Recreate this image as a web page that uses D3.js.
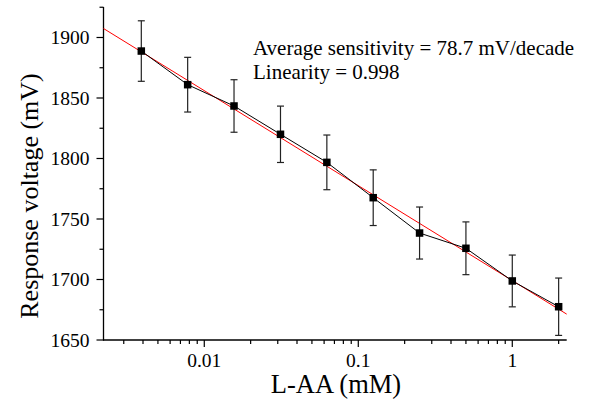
<!DOCTYPE html>
<html><head><meta charset="utf-8">
<script src="https://cdn.jsdelivr.net/npm/d3@7"></script>
<style>body{margin:0;background:#fff}svg{display:block}text{font-family:"Liberation Serif","Times New Roman",serif;fill:#000}</style>
</head><body>
<svg id="c" width="592" height="401"></svg>
<script>
const concentrations = [0.0039, 0.0078, 0.0156, 0.03125, 0.0625, 0.125, 0.25, 0.5, 1, 2];
const voltages = [1888.8, 1861, 1843.4, 1820, 1796.8, 1767.6, 1738.4, 1725.8, 1698.8, 1677.5];
const errors = [25, 22.6, 21.7, 23.3, 22.6, 23, 21.5, 21.8, 21.4, 23.7];
const yTicks = [1650, 1700, 1750, 1800, 1850, 1900];
const xTicks = [0.01, 0.1, 1];
const xTickLabels = ["0.01", "0.1", "1"];
const annotations = ["Average sensitivity = 78.7 mV/decade", "Linearity = 0.998"];

const svg = d3.select("#c");
const pL = 103.5, pR = 566.7, pT = 7, pB = 340;
const x = d3.scaleLog().domain([0.002216, 2.256]).range([pL, pR]);
const y = d3.scaleLinear().domain([1650, 1925.2]).range([pB, pT]);

// minor ticks
const minorX = [];
[0.001, 0.01, 0.1, 1].forEach(d => { for (let k = 2; k <= 9; k++) { const v = d * k; if (v >= 0.002216 && v <= 2.256) minorX.push(v); } });
const minorY = [1675, 1725, 1775, 1825, 1875, 1925];

const ax = svg.append("g").attr("stroke", "#000");
ax.append("line").attr("x1", pL).attr("x2", pL).attr("y1", pT).attr("y2", pB + 0.5).attr("stroke-width", 1.3);
ax.append("line").attr("x1", pL - 0.5).attr("x2", pR).attr("y1", pB).attr("y2", pB).attr("stroke-width", 1.3);
ax.selectAll(".ymaj").data(yTicks).join("line").attr("x1", pL - 7).attr("x2", pL).attr("y1", d => y(d)).attr("y2", d => y(d)).attr("stroke-width", 1.2);
ax.selectAll(".ymin").data(minorY).join("line").attr("x1", pL - 4).attr("x2", pL).attr("y1", d => y(d)).attr("y2", d => y(d)).attr("stroke-width", 1.2);
ax.selectAll(".xmaj").data(xTicks).join("line").attr("y1", pB).attr("y2", pB + 7).attr("x1", d => x(d)).attr("x2", d => x(d)).attr("stroke-width", 1.2);
ax.selectAll(".xmin").data(minorX).join("line").attr("y1", pB).attr("y2", pB + 4).attr("x1", d => x(d)).attr("x2", d => x(d)).attr("stroke-width", 1.2);

svg.selectAll(".yl").data(yTicks).join("text").attr("x", 89.5).attr("y", d => y(d) + 6.7).attr("text-anchor", "end").attr("font-size", 19.5).text(d => d);
svg.selectAll(".xl").data(xTicks).join("text").attr("x", d => x(d)).attr("y", 367).attr("text-anchor", "middle").attr("font-size", 19.5).text((d, i) => xTickLabels[i]);

svg.append("text").attr("x", 336).attr("y", 393).attr("text-anchor", "middle").attr("font-size", 26.5).text("L-AA (mM)");
svg.append("text").attr("transform", "translate(37.5,196) rotate(-90)").attr("text-anchor", "middle").attr("font-size", 26).text("Response voltage (mV)");

// fit line (least squares on log10 x)
const lx = concentrations.map(Math.log10);
const mx = d3.mean(lx), my = d3.mean(voltages);
const slope = d3.sum(lx.map((v, i) => (v - mx) * (voltages[i] - my))) / d3.sum(lx.map(v => (v - mx) ** 2));
const icpt = my - slope * mx;
const fitDom = x.domain();
svg.append("line").attr("x1", x(fitDom[0])).attr("x2", x(fitDom[1]))
  .attr("y1", y(icpt + slope * Math.log10(fitDom[0]))).attr("y2", y(icpt + slope * Math.log10(fitDom[1])))
  .attr("stroke", "#ff0000").attr("stroke-width", 1);

const pts = concentrations.map((c, i) => ({c, v: voltages[i], e: errors[i]}));
// error bars
const eb = svg.append("g").attr("stroke", "#222").attr("stroke-width", 1.2);
pts.forEach(p => {
  eb.append("line").attr("x1", x(p.c)).attr("x2", x(p.c)).attr("y1", y(p.v + p.e)).attr("y2", y(p.v - p.e));
  eb.append("line").attr("x1", x(p.c) - 3.5).attr("x2", x(p.c) + 3.5).attr("y1", y(p.v + p.e)).attr("y2", y(p.v + p.e));
  eb.append("line").attr("x1", x(p.c) - 3.5).attr("x2", x(p.c) + 3.5).attr("y1", y(p.v - p.e)).attr("y2", y(p.v - p.e));
});
svg.append("path").datum(pts).attr("fill", "none").attr("stroke", "#000").attr("stroke-width", 1)
  .attr("d", d3.line().x(d => x(d.c)).y(d => y(d.v)));
svg.selectAll(".pt").data(pts).join("rect").attr("x", d => x(d.c) - 3.75).attr("y", d => y(d.v) - 3.75).attr("width", 7.5).attr("height", 7.5).attr("fill", "#000");

svg.selectAll(".ann").data(annotations).join("text").attr("x", 253).attr("y", (d, i) => 54.5 + i * 24).attr("font-size", 21).text(d => d);
</script>
</body></html>
